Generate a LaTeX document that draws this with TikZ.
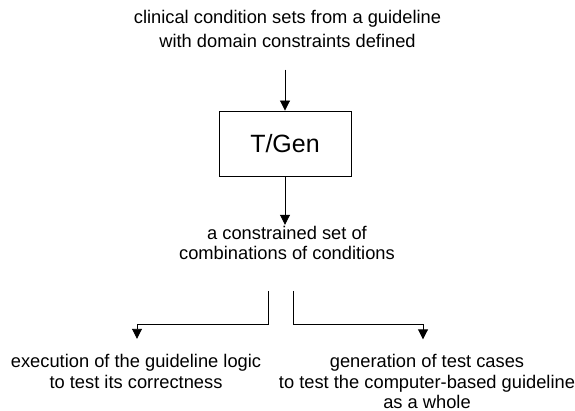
\documentclass[tikz,border=0pt]{standalone}
\usepackage{fontspec}
\setmainfont{Liberation Sans}
\usetikzlibrary{arrows.meta}
\tikzset{
  flowtext/.style={align=center, inner sep=0pt, anchor=north, font=\fontsize{18.3}{21}\selectfont},
  flowbox/.style={draw, line width=0.9pt, minimum width=132pt, minimum height=65pt, inner sep=0pt, font=\fontsize{25}{30}\selectfont},
  flowarrow/.style={draw, line width=0.9pt, -{Triangle[width=10pt,length=10pt]}}
}
\begin{document}
\begin{tikzpicture}[x=1pt,y=-1pt]
  \useasboundingbox (0,0) rectangle (575,411);
  % Specify the input, the generator and its output:
  \node[flowtext, font=\fontsize{18.3}{24}\selectfont] (conds) at (287.5,9.8) {clinical condition sets from a guideline\\with domain constraints defined};
  \node[flowbox] (tgen) at (285,143.5) {T/Gen};
  \node[flowtext, font=\fontsize{18.3}{20}\selectfont] (combos) at (287,225.8) {a constrained set of\\combinations of conditions};
  % Specify the two uses of the output:
  \node[flowtext] (exec) at (136,353.8) {execution of the guideline logic\\to test its correctness};
  \node[flowtext, font=\fontsize{18.3}{20.3}\selectfont] (gen) at (427,354.3) {generation of test cases\\to test the computer-based guideline\\as a whole};
  % Specify the corners of the split:
  \coordinate (split-l) at (268,291);
  \coordinate (bend-l) at (137,324);
  \coordinate (split-r) at (293,291);
  \coordinate (bend-r) at (423,324);
  % Draw the arrows:
  \draw[flowarrow, shorten <=22pt] (conds.south -| tgen.north) -- (tgen.north);
  \draw[flowarrow, shorten >=1pt] (tgen.south) -- (tgen.south |- combos.north);
  \draw[flowarrow, shorten >=15pt] (split-l) |- (bend-l) -- (bend-l |- exec.north);
  \draw[flowarrow, shorten >=15pt] (split-r) |- (bend-r) -- (bend-r |- gen.north);
\end{tikzpicture}
\end{document}
